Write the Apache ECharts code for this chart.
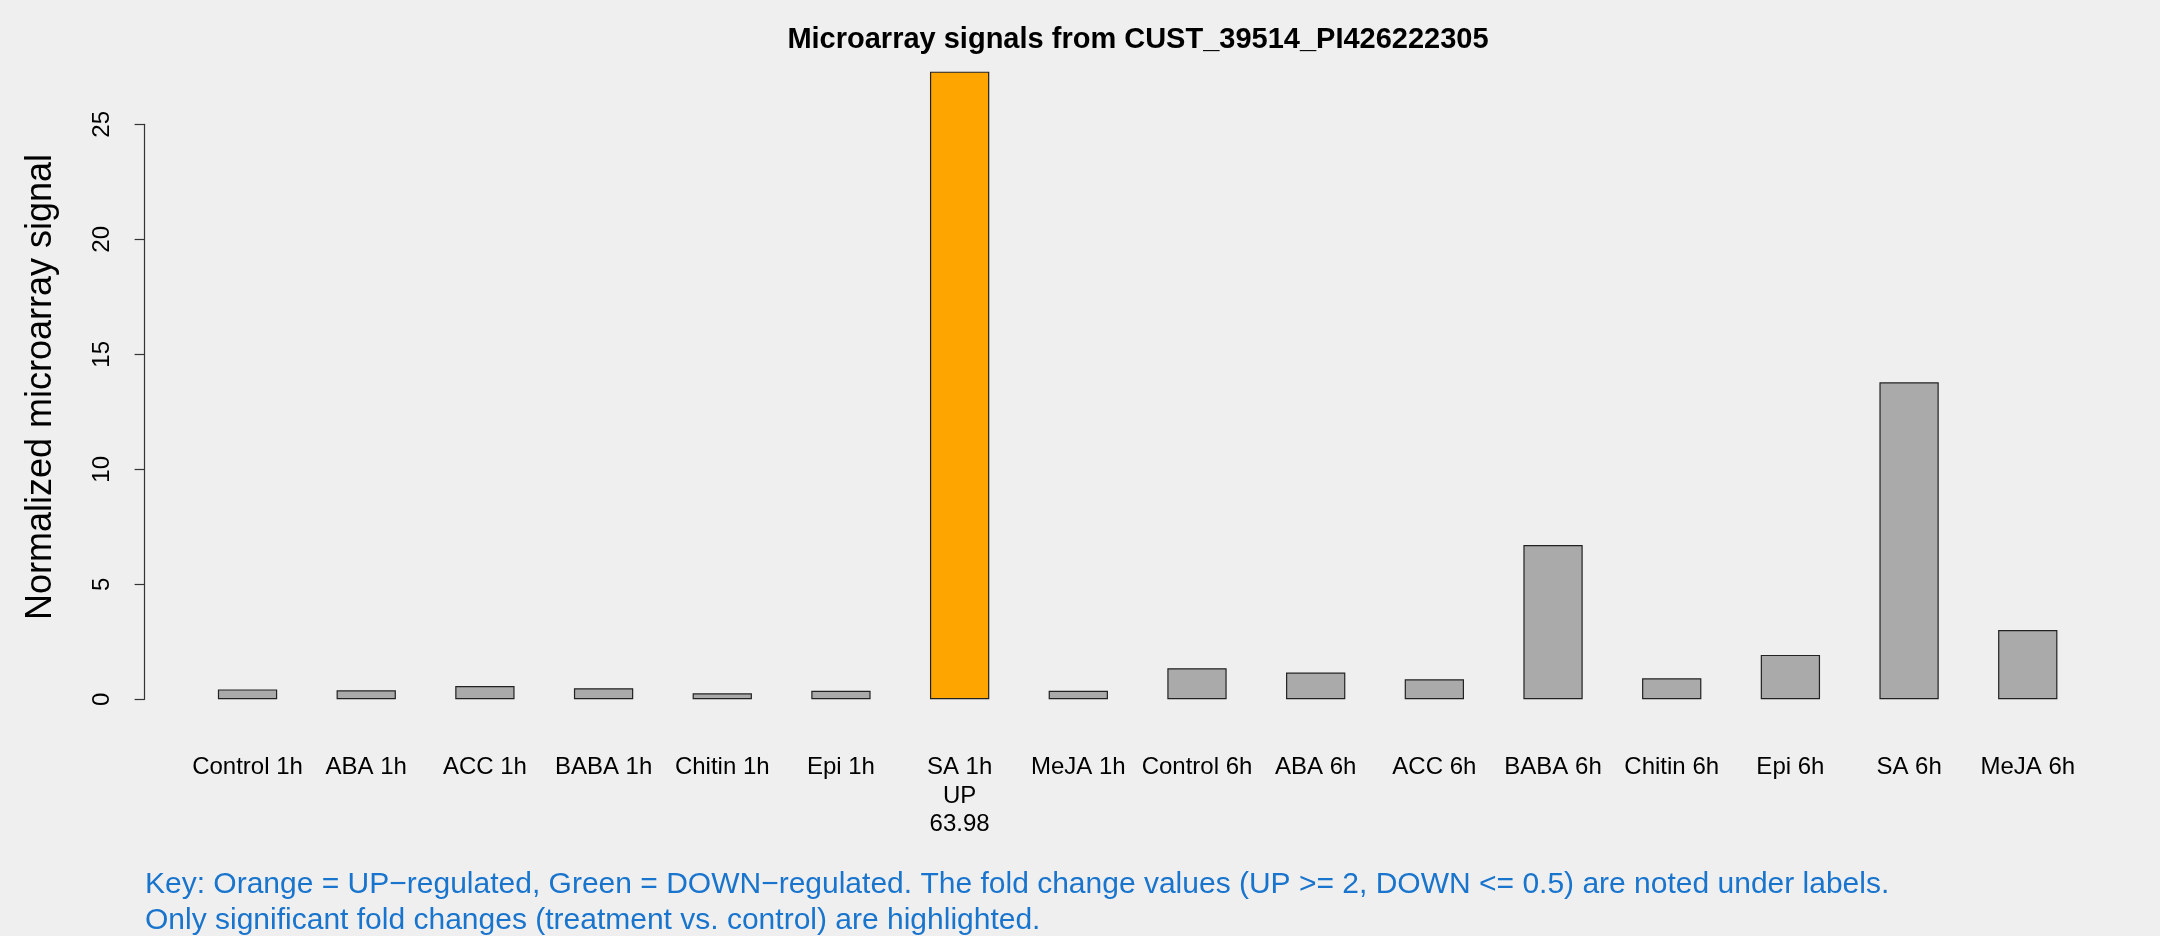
<!DOCTYPE html>
<html>
<head>
<meta charset="utf-8">
<script src="https://cdn.jsdelivr.net/npm/echarts@6/dist/echarts.min.js"></script>
<style>
html,body{margin:0;padding:0;background:#efefef;}
#chart{width:2160px;height:936px;}
</style>
</head>
<body>
<div id="chart"></div>
<script>
const categories = ['Control 1h','ABA 1h','ACC 1h','BABA 1h','Chitin 1h','Epi 1h','SA 1h','MeJA 1h',
  'Control 6h','ABA 6h','ACC 6h','BABA 6h','Chitin 6h','Epi 6h','SA 6h','MeJA 6h'];
const values = [0.43,0.39,0.58,0.48,0.26,0.37,27.29,0.37,1.35,1.16,0.87,6.71,0.91,1.93,13.78,3.01];
const regulation = ['','','','','','','UP','','','','','','','','',''];
const foldChange = ['','','','','','','63.98','','','','','','','','',''];
const yTicks = [0,5,10,15,20,25];

const titleText = 'Microarray signals from CUST_39514_PI426222305';
const yTitle = 'Normalized microarray signal';
const keyLines = [
  'Key: Orange = UP\u2212regulated, Green = DOWN\u2212regulated. The fold change values (UP >= 2, DOWN <= 0.5) are noted under labels.',
  'Only significant fold changes (treatment vs. control) are highlighted.'
];

const colorFor = r => r === 'UP' ? '#FFA500' : (r === 'DOWN' ? '#00A000' : '#AAAAAA');
const FONT = '"Liberation Sans", Arial, Helvetica, sans-serif';

const chart = echarts.init(document.getElementById('chart'), null, {renderer:'canvas'});
chart.setOption({
  backgroundColor: '#efefef',
  animation: false,
  title: [
    { text: titleText, left: 1138, top: 25, textAlign: 'center', padding: 0,
      textStyle: { fontFamily: FONT, fontSize: 29, fontWeight: 'bold', color: '#000' } },
    { text: keyLines.join('\n'), left: 145, top: 867, padding: 0,
      textStyle: { fontFamily: FONT, fontSize: 30, fontWeight: 'normal', color: '#1874CD', lineHeight: 36 } }
  ],
  graphic: [
    { type: 'text', x: 41, y: 387, rotation: Math.PI/2,
      style: { text: yTitle, fontFamily: FONT, fontSize: 36, fill: '#000', align: 'center', verticalAlign: 'middle' } }
  ],
  grid: { left: 188.2, right: 72.9, top: 124.3, bottom: 236.7 },
  xAxis: {
    type: 'category',
    data: categories,
    axisLine: { show: false },
    axisTick: { show: false },
    axisLabel: {
      interval: 0, margin: 54, fontFamily: FONT, fontSize: 24, color: '#000', lineHeight: 28.5,
      formatter: (v, i) => {
        const idx = categories.indexOf(v);
        return regulation[idx] ? v + '\n' + regulation[idx] + '\n' + foldChange[idx] : v;
      }
    },
    splitLine: { show: false }
  },
  yAxis: {
    type: 'value', min: 0, max: 25, interval: 5, offset: 43.6,
    axisLine: { show: true, lineStyle: { color: '#333', width: 1.2 } },
    axisTick: { show: true, length: 10, lineStyle: { color: '#333', width: 1.2 } },
    axisLabel: { rotate: 90, margin: 30, fontFamily: FONT, fontSize: 24, color: '#000',
      customValues: yTicks },
    splitLine: { show: false }
  },
  series: [{
    type: 'bar',
    clip: false,
    barWidth: 59.3,
    data: values.map((v, i) => ({ value: v, itemStyle: { color: colorFor(regulation[i]) } })),
    itemStyle: { borderColor: '#222', borderWidth: 1.2 }
  }]
});
</script>
</body>
</html>
